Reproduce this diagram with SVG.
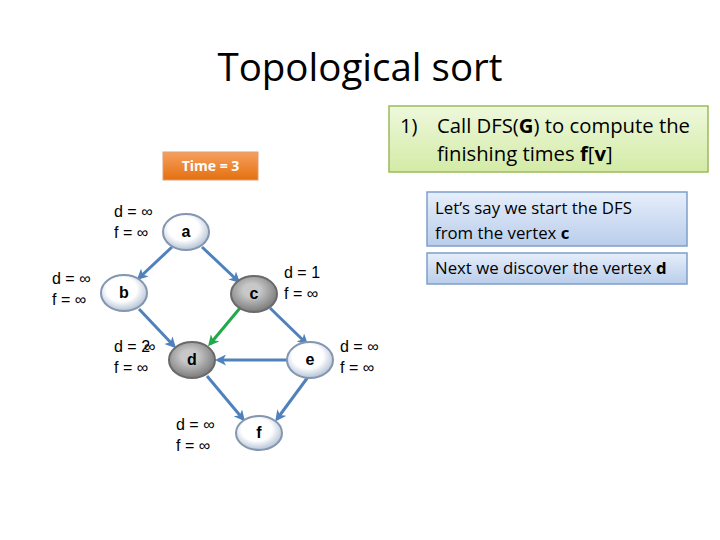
<svg xmlns="http://www.w3.org/2000/svg" width="720" height="540" viewBox="0 0 720 540">
<defs>
<linearGradient id="gGreen" x1="0" y1="0" x2="0" y2="1"><stop offset="0" stop-color="#eef8dc"/><stop offset="1" stop-color="#d3eba6"/></linearGradient>
<linearGradient id="gBlue" x1="0" y1="0" x2="0" y2="1"><stop offset="0" stop-color="#e6eefa"/><stop offset="1" stop-color="#b9cdeb"/></linearGradient>
<linearGradient id="gOrange" x1="0" y1="0" x2="0" y2="1"><stop offset="0" stop-color="#f7a060"/><stop offset="1" stop-color="#e3700f"/></linearGradient>
<radialGradient id="gWhite" cx="0.45" cy="0.4" r="0.6"><stop offset="0.55" stop-color="#ffffff"/><stop offset="1" stop-color="#b4c2d6"/></radialGradient>
<radialGradient id="gGray" cx="0.45" cy="0.4" r="0.6"><stop offset="0.3" stop-color="#c8c8c8"/><stop offset="1" stop-color="#7a7a7a"/></radialGradient>
<marker id="ab" markerWidth="11" markerHeight="11" refX="8" refY="5.5" orient="auto" markerUnits="userSpaceOnUse" viewBox="0 0 11 11"><path d="M0,0 L11,5.5 L0,11 L3,5.5 Z" fill="#4f81bd"/></marker>
<marker id="ag" markerWidth="11" markerHeight="11" refX="8" refY="5.5" orient="auto" markerUnits="userSpaceOnUse" viewBox="0 0 11 11"><path d="M0,0 L11,5.5 L0,11 L3,5.5 Z" fill="#1faa4a"/></marker>
</defs>
<style>
.node{stroke:#8496b0;stroke-width:2;fill:url(#gWhite)}
.visited{fill:url(#gGray);stroke:#6a6a6a;stroke-width:2}
.nl{font-family:"Liberation Sans",Arial,sans-serif;font-weight:bold;font-size:16px;fill:#000;text-anchor:middle}
.lbl{font-family:"Liberation Sans",Arial,sans-serif;font-size:16px;fill:#000}
.edge{stroke:#4f81bd;stroke-width:3;fill:none;marker-end:url(#ab)}
.box{font-family:"Open Sans","Liberation Sans",sans-serif;fill:#000}
</style>
<rect width="720" height="540" fill="#ffffff"/>
<text x="360" y="81" text-anchor="middle" font-family="Open Sans, Liberation Sans, sans-serif" font-size="38.5" fill="#000">Topological sort</text>

<g id="step-box">
<rect x="389" y="106" width="319" height="66" fill="url(#gGreen)" stroke="#9bbb59" stroke-width="1.5"/>
<text class="box" x="400" y="133" font-size="20.3">1)<tspan x="437">Call DFS(</tspan><tspan font-weight="bold">G</tspan>) to compute the</text>
<text class="box" x="437" y="161" font-size="20.3">finishing times <tspan font-weight="bold">f</tspan>[<tspan font-weight="bold">v</tspan>]</text>
</g>

<g id="time-box">
<rect x="163" y="152" width="95" height="28" fill="url(#gOrange)" stroke="#d7a07a" stroke-width="1"/>
<text x="210.5" y="171" text-anchor="middle" font-family="Open Sans, Liberation Sans, sans-serif" font-weight="bold" font-size="14" fill="#ffffff">Time = 3</text>
</g>

<g id="note1">
<rect x="427" y="192" width="260" height="54" fill="url(#gBlue)" stroke="#7f9fc9" stroke-width="1.5"/>
<text class="box" x="435" y="214" font-size="16.8">Let’s say we start the DFS</text>
<text class="box" x="435" y="239" font-size="16.8">from the vertex <tspan font-weight="bold">c</tspan></text>
</g>

<g id="note2">
<rect x="427" y="253" width="260" height="31" fill="url(#gBlue)" stroke="#7f9fc9" stroke-width="1.5"/>
<text class="box" x="435" y="274" font-size="16.8">Next we discover the vertex <tspan font-weight="bold">d</tspan></text>
</g>

<g id="connectors">
<line class="edge" x1="172" y1="247" x2="139" y2="278"/>
<line class="edge" x1="202" y1="247" x2="238" y2="281"/>
<line class="edge" x1="139" y1="309" x2="174" y2="346"/>
<line x1="240" y1="308" x2="210" y2="344" stroke="#1faa4a" stroke-width="3" marker-end="url(#ag)"/>
<line class="edge" x1="270" y1="308" x2="306" y2="343"/>
<line class="edge" x1="287" y1="360" x2="218" y2="360"/>
<line class="edge" x1="207" y1="376" x2="243" y2="419"/>
<line class="edge" x1="308" y1="377" x2="277" y2="419"/>
</g>

<g id="node-a">
<ellipse class="node" cx="186" cy="232" rx="23" ry="18"/>
<text class="nl" x="186" y="237">a</text>
<text class="lbl" x="114" y="217">d = ∞</text>
<text class="lbl" x="114" y="238">f = ∞</text>
</g>
<g id="node-b">
<ellipse class="node" cx="124" cy="293" rx="23" ry="18"/>
<text class="nl" x="124" y="298">b</text>
<text class="lbl" x="52" y="284">d = ∞</text>
<text class="lbl" x="52" y="305">f = ∞</text>
</g>
<g id="node-c">
<ellipse class="visited" cx="254" cy="294" rx="23" ry="18"/>
<text class="nl" x="254" y="299" font-size="14">c</text>
<text class="lbl" x="284" y="278">d = 1</text>
<text class="lbl" x="284" y="299">f = ∞</text>
</g>
<g id="node-d">
<ellipse class="visited" cx="192" cy="360" rx="23" ry="18" stroke="#c00000"/>
<text class="nl" x="192" y="365">d</text>
<text class="lbl" x="114" y="352">d = 2<tspan dx="-6">∞</tspan></text>
<text class="lbl" x="114" y="373">f = ∞</text>
</g>
<g id="node-e">
<ellipse class="node" cx="310" cy="360" rx="23" ry="18"/>
<text class="nl" x="310" y="365">e</text>
<text class="lbl" x="340" y="352">d = ∞</text>
<text class="lbl" x="340" y="373">f = ∞</text>
</g>
<g id="node-f">
<ellipse class="node" cx="259" cy="433" rx="23" ry="17"/>
<text class="nl" x="259" y="438">f</text>
<text class="lbl" x="176" y="430">d = ∞</text>
<text class="lbl" x="176" y="451">f = ∞</text>
</g>
</svg>
